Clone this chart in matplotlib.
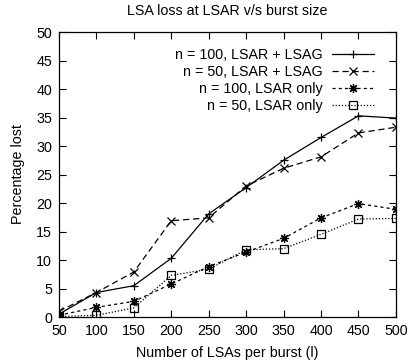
import numpy as np
import matplotlib
matplotlib.use("Agg")
import matplotlib.pyplot as plt

plt.rcParams['font.family'] = ['Liberation Sans', 'DejaVu Sans']

# Datos
burst = [50, 100, 150, 200, 250, 300, 350, 400, 450, 500]
n100_lsag = [0.5, 4.3, 5.5, 10.3, 18.1, 22.7, 27.5, 31.5, 35.3, 34.9]
n50_lsag = [1.0, 4.3, 7.9, 16.9, 17.4, 23.0, 26.1, 28.1, 32.3, 33.3]
n100_only = [0.3, 1.7, 2.75, 5.8, 8.85, 11.4, 13.8, 17.4, 19.9, 18.9]
n50_only = [0.1, 0.3, 1.6, 7.3, 8.4, 11.8, 12.0, 14.5, 17.2, 17.3]
labels = ["n = 100, LSAR + LSAG", "n = 50, LSAR + LSAG",
          "n = 100, LSAR only", "n = 50, LSAR only"]
xticks = [50, 100, 150, 200, 250, 300, 350, 400, 450, 500]
yticks = [0, 5, 10, 15, 20, 25, 30, 35, 40, 45, 50]

fig = plt.figure(figsize=(4.09, 3.64), dpi=100)
ax = fig.add_axes([0.144, 0.129, 0.824, 0.783])

lw = 0.9
ax.plot(burst, n100_lsag, color='black', lw=lw, ls='-', marker='+', ms=6,
        mew=0.9, label=labels[0])
ax.plot(burst, n50_lsag, color='black', lw=lw, ls=(0, (5, 3)), marker='x', ms=6,
        mew=0.9, label=labels[1])
ax.plot(burst, n100_only, color='black', lw=lw, ls=(0, (2.5, 2.5)), marker=(8, 2, 0),
        ms=6.5, mew=0.9, label=labels[2])
ax.plot(burst, n50_only, color='black', lw=lw, ls=(0, (1, 1.5)), marker='s', ms=6,
        mfc='none', mew=0.9, label=labels[3])

ax.set_xlim(50, 500)
ax.set_ylim(0, 50)
ax.set_xticks(xticks)
ax.set_yticks(yticks)
ax.tick_params(direction='in', top=True, right=True, labelsize=10.3, length=5, pad=5)
for s in ax.spines.values():
    s.set_linewidth(0.9)

ax.set_title("LSA loss at LSAR v/s burst size", fontsize=10.3, pad=12)
ax.set_xlabel("Number of LSAs per burst (l)", fontsize=10.3, labelpad=6)
ax.set_ylabel("Percentage lost", fontsize=10.3, labelpad=8)

ax.legend(loc='upper right', bbox_to_anchor=(0.99, 1.008), frameon=False,
          markerfirst=False, fontsize=10.3, handlelength=2.9, labelspacing=0.2,
          handletextpad=0.7, borderaxespad=0.9)

fig.savefig("out.png", dpi=100)
